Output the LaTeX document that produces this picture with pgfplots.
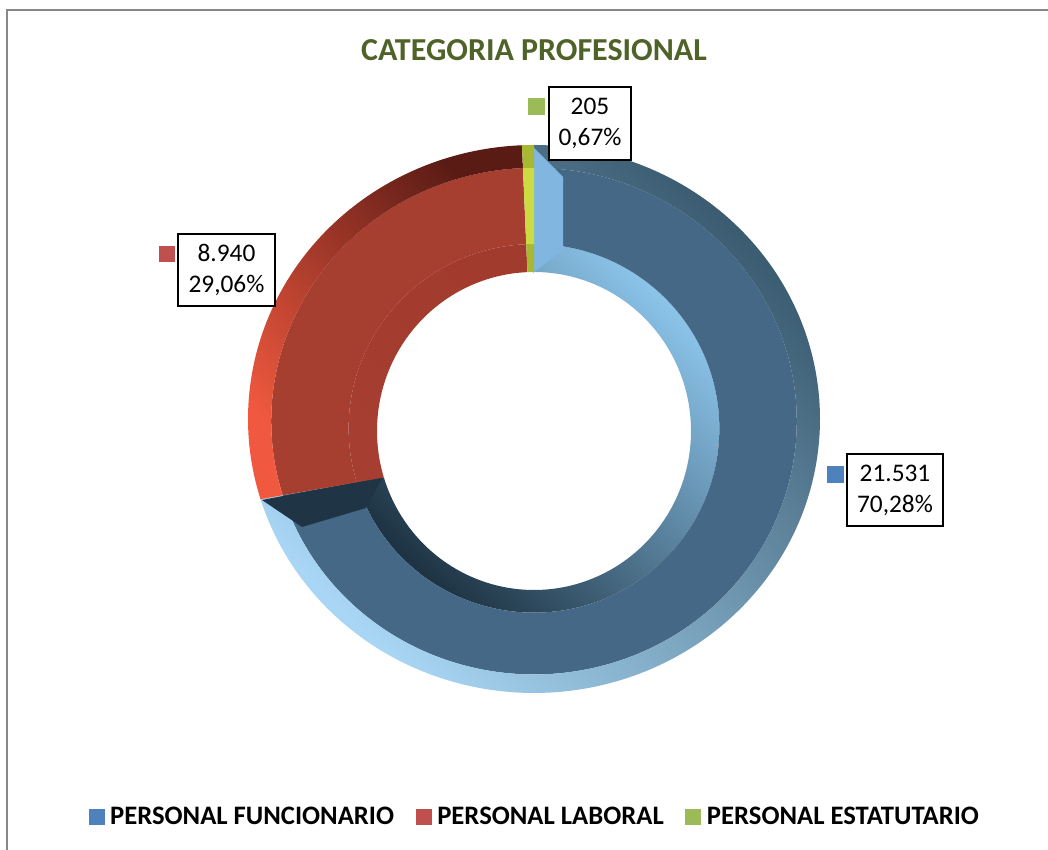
\documentclass[border=0pt]{standalone}
\usepackage{fontspec}
\setmainfont{Carlito}
\usepackage{pgfplots}
\usepackage{pgfplotstable}
\pgfplotsset{compat=1.18}

\definecolor{titlegreen}{HTML}{4F6228}
\definecolor{lgblue}{HTML}{4F81BD}
\definecolor{lgred}{HTML}{C0504D}
\definecolor{lggreen}{HTML}{9BBB59}
\definecolor{frame}{HTML}{888888}
% blue slice
\definecolor{bface}{HTML}{446885}
\definecolor{bhi}{HTML}{A8D6F4}
\definecolor{bdk}{HTML}{3A5B70}
\definecolor{binhi}{HTML}{8CC4EA}
\definecolor{bindk}{HTML}{1E3444}
\definecolor{bcap}{HTML}{80B6E0}
\definecolor{bend}{HTML}{1F3545}
% red slice
\definecolor{rface}{HTML}{A73F31}
\definecolor{rhi}{HTML}{F0593F}
\definecolor{rdk}{HTML}{5A1B15}
\definecolor{rin}{HTML}{A13B2E}
\definecolor{rinhi}{HTML}{A63E31}
% green slice
\definecolor{gface}{HTML}{CCDA44}
\definecolor{gedge}{HTML}{A9B833}

\pgfplotstableread{
cat value pct
Funcionario 21531 70.28
Laboral 8940 29.06
Estatutario 205 0.67
}\catdata
\pgfplotstablegetelem{0}{pct}\of\catdata \edef\pA{\pgfplotsretval}
\pgfplotstablegetelem{1}{pct}\of\catdata \edef\pB{\pgfplotsretval}
\pgfplotstablegetelem{2}{pct}\of\catdata \edef\pC{\pgfplotsretval}
\pgfmathsetmacro\tot{\pA+\pB+\pC}
\pgfmathsetmacro\angA{90}
\pgfmathsetmacro\angB{90-360*(\pA/\tot)}
\pgfmathsetmacro\angC{\angB-360*(\pB/\tot)}
\pgfmathsetmacro\angD{\angC-360*(\pC/\tot)}

% ring sector: start angle, end angle, inner s, outer s, style
\newcommand\sect[5]{%
  \addplot[forget plot,draw=none,#5,samples at={0,1,...,200,400,401,...,600}]
    ({ex(x,#1,#2,#3,#4)},{ey(x,#1,#2,#3,#4)});}

\begin{document}
\begin{tikzpicture}
\useasboundingbox (0,0) rectangle (786pt,636.75pt);
\clip (0,0) rectangle (786pt,636.75pt);
\begin{axis}[
  at={(0,0)}, anchor=south west,
  scale only axis, width=786pt, height=636.75pt,
  xmin=0, xmax=1048, ymin=0, ymax=849,
  hide axis, clip=false,
  declare function={
    sA(\t,\si,\so)=((\t)<=300)*(\so)+((\t)>300)*(\si);
    tA(\t,\a,\b)=((\t)<=300)*((\a)+((\b)-(\a))*((\t)/200))+((\t)>300)*((\b)+((\a)-(\b))*(((\t)-400)/200));
    ex(\t,\a,\b,\si,\so)=534+(157+129*sA(\t,\si,\so))*cos(tA(\t,\a,\b));
    ey(\t,\a,\b,\si,\so)=418+12*sA(\t,\si,\so)+(159+115*sA(\t,\si,\so))*sin(tA(\t,\a,\b));
  },
  legend image code/.code={\fill[#1,draw=none] (0pt,-6pt) rectangle (12pt,6pt);},
  legend style={at={(axis cs:536.5,32)}, anchor=center, draw=none, fill=none,
    legend columns=3, font=\bfseries\fontsize{20}{23}\selectfont,
    /tikz/every even column/.append style={column sep=12pt},
    nodes={inner xsep=4.2pt}},
]
% frame
\draw[frame, line width=1.6pt] (axis cs:7,-20) -- (axis cs:7,839) -- (axis cs:1080,839);

% blue slice
\sect{\angA}{\angB}{0}{0.22}{top color=binhi, bottom color=bindk, shading angle=-45}
\sect{\angA}{\angB}{0.22}{0.82}{fill=bface}
\sect{\angA}{\angB}{0.82}{1}{top color=bdk, bottom color=bhi, shading angle=-45}
% blue end faces
\addplot[forget plot, draw=none, fill=bcap] coordinates {(533,702) (563,672) (563,599) (533,576)} -- cycle;
\addplot[forget plot, draw=none, fill=bend] coordinates {(262,349) (383,372) (366,341) (302,322)} -- cycle;
% red slice
\sect{\angB}{\angC}{0}{0.22}{top color=rin, bottom color=rinhi, shading angle=-45}
\sect{\angB}{\angC}{0.22}{0.82}{fill=rface}
\sect{\angB}{\angC}{0.82}{1}{top color=rdk, bottom color=rhi, shading angle=-45}
% green slice
\sect{\angC}{\angD}{0}{0.22}{fill=gedge}
\sect{\angC}{\angD}{0.22}{0.82}{fill=gface}
\sect{\angC}{\angD}{0.82}{1}{fill=gedge}

% label keys
\addplot[forget plot, only marks, mark=square*, mark size=6pt, lggreen] coordinates {(536,742.5)};
\addplot[forget plot, only marks, mark=square*, mark size=5.8pt, lgred] coordinates {(166.5,595)};
\addplot[forget plot, only marks, mark=square*, mark size=6pt, lgblue] coordinates {(835,374.5)};

% title
\node[font=\bfseries\fontsize{24}{28}\selectfont, text=titlegreen] at (axis cs:534,799) {CATEGORIA PROFESIONAL};

% data labels
\begin{scope}[every node/.style={draw=black, fill=white, line width=1.3pt, align=center, inner sep=0pt,
   minimum height=54.5pt, font=\fontsize{19}{23.25}\selectfont}]
\node[minimum width=61.5pt] at (axis cs:590,725.5) {205\\0,67\%};
\node[minimum width=72.75pt] at (axis cs:226.5,579) {8.940\\29,06\%};
\node[minimum width=72pt] at (axis cs:895,359) {21.531\\70,28\%};
\end{scope}

% legend
\addlegendimage{fill=lgblue}
\addlegendentry{PERSONAL FUNCIONARIO}
\addlegendimage{fill=lgred}
\addlegendentry{PERSONAL LABORAL}
\addlegendimage{fill=lggreen}
\addlegendentry{PERSONAL ESTATUTARIO}
\end{axis}
\end{tikzpicture}
\end{document}
